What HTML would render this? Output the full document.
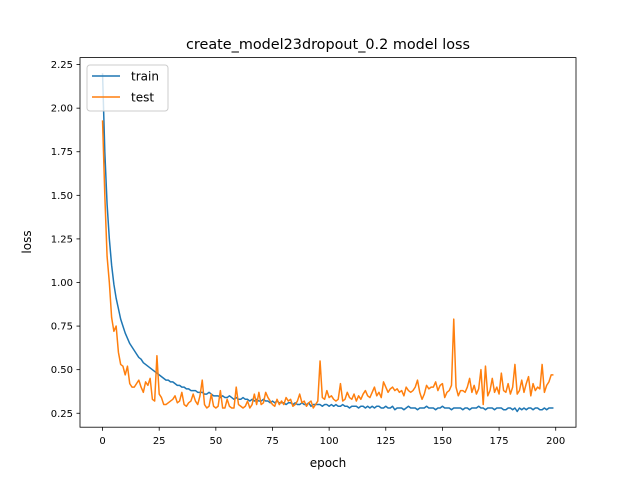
<!DOCTYPE html>
<html><head><meta charset="utf-8"><style>
body{margin:0;background:#fff;}
svg{display:block;font-family:"DejaVu Sans","Liberation Sans",sans-serif;}
</style></head><body>
<svg id="chart" width="640" height="480">
<rect width="640" height="480" fill="#fff"/>
<g id="plot"></g>
<rect x="80" y="57.6" width="496" height="369.6" fill="none" stroke="#000" stroke-width="0.8"/>
<text x="328" y="49" text-anchor="middle" font-size="14.4">create_model23dropout_0.2 model loss</text>
<text x="328" y="467" text-anchor="middle" font-size="12">epoch</text>
<text x="31" y="242" text-anchor="middle" font-size="12" transform="rotate(-90 31 242)">loss</text>
<g>
<rect x="87" y="65" width="81" height="46" rx="3" fill="#fff" fill-opacity="0.8" stroke="#ccc"/>
<line x1="92" y1="76" x2="120" y2="76" stroke="#1f77b4" stroke-width="1.5"/>
<text x="131" y="80.5" font-size="12">train</text>
<line x1="92" y1="97" x2="120" y2="97" stroke="#ff7f0e" stroke-width="1.5"/>
<text x="131" y="101.5" font-size="12">test</text>
</g>
</svg>
<script>
const xTicks=[0,25,50,75,100,125,150,175,200];
const yTicks=[0.25,0.5,0.75,1.0,1.25,1.5,1.75,2.0,2.25];
const trainLoss=[2.2,1.75,1.45,1.25,1.1,0.99,0.91,0.85,0.79,0.75,0.71,0.68,0.65,0.63,0.61,0.59,0.57,0.56,0.54,0.53,
0.52,0.51,0.5,0.49,0.48,0.47,0.46,0.45,0.44,0.44,0.43,0.43,0.42,0.41,0.41,0.4,0.4,0.39,0.39,0.38,
0.38,0.38,0.37,0.37,0.37,0.36,0.36,0.37,0.36,0.35,0.35,0.35,0.34,0.35,0.34,0.34,0.35,0.34,0.33,0.34,
0.33,0.33,0.34,0.33,0.33,0.32,0.33,0.32,0.33,0.32,0.32,0.33,0.32,0.32,0.31,0.32,0.31,0.32,0.31,0.31,
0.31,0.3,0.31,0.31,0.3,0.31,0.3,0.3,0.31,0.3,0.3,0.31,0.29,0.3,0.3,0.3,0.3,0.29,0.3,0.3,
0.29,0.3,0.29,0.3,0.29,0.29,0.3,0.29,0.29,0.28,0.29,0.29,0.29,0.28,0.29,0.29,0.28,0.29,0.28,0.29,
0.28,0.29,0.29,0.28,0.28,0.29,0.28,0.28,0.29,0.27,0.28,0.28,0.28,0.27,0.28,0.29,0.28,0.28,0.28,0.27,
0.28,0.28,0.28,0.29,0.28,0.28,0.28,0.27,0.28,0.28,0.29,0.28,0.28,0.28,0.27,0.28,0.28,0.28,0.28,0.27,
0.28,0.28,0.27,0.28,0.28,0.28,0.29,0.28,0.28,0.27,0.28,0.28,0.28,0.27,0.28,0.28,0.28,0.27,0.27,0.28,
0.28,0.27,0.28,0.26,0.28,0.27,0.28,0.27,0.28,0.28,0.27,0.28,0.28,0.27,0.27,0.28,0.27,0.28,0.28,0.28];
const testLoss=[1.93,1.5,1.15,1.0,0.8,0.72,0.75,0.6,0.53,0.52,0.47,0.52,0.42,0.4,0.4,0.42,0.44,0.4,0.37,0.43,
0.41,0.45,0.33,0.32,0.58,0.36,0.34,0.3,0.3,0.31,0.32,0.33,0.35,0.31,0.32,0.37,0.3,0.29,0.31,0.32,
0.36,0.32,0.3,0.35,0.44,0.3,0.28,0.29,0.36,0.29,0.28,0.29,0.38,0.28,0.28,0.33,0.29,0.28,0.28,0.4,
0.3,0.29,0.28,0.29,0.32,0.28,0.3,0.36,0.3,0.37,0.3,0.31,0.37,0.34,0.32,0.3,0.29,0.33,0.3,0.32,
0.3,0.34,0.32,0.33,0.29,0.3,0.32,0.36,0.31,0.32,0.29,0.31,0.32,0.28,0.3,0.32,0.55,0.34,0.33,0.38,
0.34,0.35,0.33,0.32,0.33,0.42,0.32,0.33,0.37,0.34,0.33,0.36,0.32,0.35,0.33,0.36,0.38,0.35,0.34,0.37,
0.4,0.35,0.37,0.34,0.43,0.4,0.37,0.39,0.4,0.38,0.39,0.37,0.38,0.35,0.4,0.38,0.37,0.38,0.4,0.44,
0.37,0.33,0.36,0.41,0.39,0.4,0.4,0.43,0.38,0.41,0.42,0.34,0.37,0.38,0.41,0.79,0.4,0.35,0.38,0.38,
0.37,0.4,0.45,0.37,0.41,0.36,0.39,0.5,0.3,0.52,0.35,0.38,0.45,0.37,0.4,0.36,0.48,0.38,0.37,0.42,
0.36,0.4,0.53,0.36,0.38,0.44,0.37,0.42,0.46,0.35,0.42,0.38,0.4,0.39,0.53,0.37,0.41,0.43,0.47,0.47];
const X=v=>80+(v+9.95)*496/218.9;
const Y=v=>427.2-(v-0.17)*369.6/2.12;
const NS="http://www.w3.org/2000/svg";
const g=document.getElementById('plot');
function mk(t,a){const e=document.createElementNS(NS,t);for(const k in a)e.setAttribute(k,a[k]);g.appendChild(e);return e;}
xTicks.forEach(t=>{
 const l=mk('line',{x1:X(t),x2:X(t),y1:427.2,y2:430.7,stroke:'#000','stroke-width':0.8});
 
 
 const s=mk('text',{x:X(t),y:444,'text-anchor':'middle','font-size':10});
 s.textContent=t;
 
 
});
yTicks.forEach(t=>{
 const l=mk('line',{x1:76.5,x2:80,y1:Y(t),y2:Y(t),stroke:'#000','stroke-width':0.8});
 
 
 const s=mk('text',{x:73,y:Y(t)+3.5,'text-anchor':'end','font-size':10});
 s.textContent=t.toFixed(2);
 
 
});
function line(d,c,n){
 const p=mk('polyline',{points:d.map((v,i)=>X(i)+','+Y(v)).join(' '),fill:'none',stroke:c,'stroke-width':1.5,'stroke-linejoin':'round'});
 
 
}
line(trainLoss,'#1f77b4','train-line');
line(testLoss,'#ff7f0e','test-line');
</script>
</body></html>
